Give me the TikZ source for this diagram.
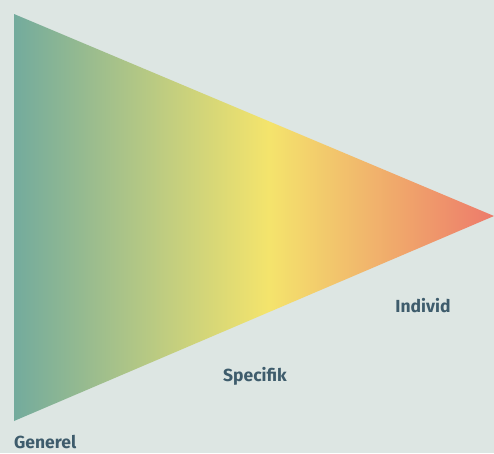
\documentclass[tikz,border=0pt]{standalone}
\usepackage{fontspec}
\setmainfont{Fira Sans}
\usetikzlibrary{positioning}
\definecolor{bgfill}{RGB}{221, 230, 227}
\definecolor{conegreen}{RGB}{115, 171, 157}
\definecolor{coneyellow}{RGB}{244, 228, 108}
\definecolor{conered}{RGB}{237, 122, 107}
\definecolor{labeltext}{RGB}{62, 92, 108}
\pgfdeclarehorizontalshading{coneshade}{100bp}{color(0bp)=(conegreen);
    color(25bp)=(conegreen); color(51.5bp)=(coneyellow);
    color(75bp)=(conered); color(100bp)=(conered)}
\tikzset{
    level/.style={font=\bfseries\fontsize{17.5}{20}\selectfont,
        text=labeltext, inner sep=0pt},
}

\begin{document}
\begin{tikzpicture}[x=1pt, y=-1pt]
    \fill[bgfill] (0, 0) rectangle (494, 453);
    \useasboundingbox (0, 0) rectangle (494, 453);
    \shade[shading=coneshade] (14, 14) -- (494, 216) -- (14, 421) -- cycle;
    \node[level, anchor=base west, text depth=0pt] (generel) at (14, 448) {Generel};
    \node[level, anchor=base] (specifik) at (255, 381) {Specifik};
    \node[level, anchor=base] (individ) at (423, 312) {Individ};
\end{tikzpicture}
\end{document}
